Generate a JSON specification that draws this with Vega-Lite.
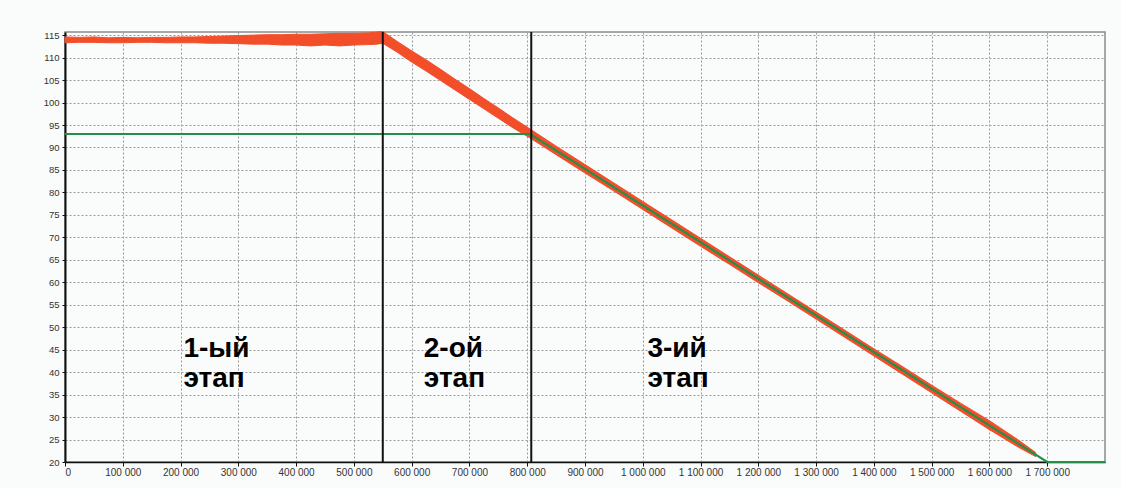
{
  "$schema": "https://vega.github.io/schema/vega-lite/v6.json",
  "width": 1040,
  "height": 430,
  "autosize": {"type": "none"},
  "padding": {"left": 65, "top": 32, "right": 16, "bottom": 26},
  "background": "#fafcfc",
  "config": {
    "locale": {"number": {"decimal": ".", "thousands": " ", "grouping": [3], "currency": ["", ""]}},
    "view": {"stroke": "#8a8a8a", "strokeWidth": 1.5},
    "font": "Liberation Sans"
  },
  "datasets": {
    "red": [
      {"x": 0, "lo": 113.3, "v": 114.6},
      {"x": 25000, "lo": 113.4, "v": 114.5},
      {"x": 50000, "lo": 113.4, "v": 114.6},
      {"x": 75000, "lo": 113.3, "v": 114.4},
      {"x": 100000, "lo": 113.3, "v": 114.5},
      {"x": 125000, "lo": 113.4, "v": 114.4},
      {"x": 150000, "lo": 113.4, "v": 114.5},
      {"x": 175000, "lo": 113.3, "v": 114.5},
      {"x": 200000, "lo": 113.3, "v": 114.6},
      {"x": 225000, "lo": 113.3, "v": 114.6},
      {"x": 250000, "lo": 113.2, "v": 114.7},
      {"x": 275000, "lo": 113.2, "v": 114.8},
      {"x": 300000, "lo": 113.1, "v": 114.9},
      {"x": 325000, "lo": 113.0, "v": 115.0},
      {"x": 350000, "lo": 113.0, "v": 115.1},
      {"x": 375000, "lo": 112.8, "v": 115.1},
      {"x": 400000, "lo": 112.8, "v": 115.2},
      {"x": 425000, "lo": 112.6, "v": 115.2},
      {"x": 450000, "lo": 112.8, "v": 115.3},
      {"x": 475000, "lo": 112.6, "v": 115.4},
      {"x": 500000, "lo": 112.8, "v": 115.4},
      {"x": 525000, "lo": 112.9, "v": 115.5},
      {"x": 540000, "lo": 113.0, "v": 115.7},
      {"x": 550000, "lo": 113.2, "v": 115.8},
      {"x": 575000, "lo": 111.2, "v": 113.6},
      {"x": 600000, "lo": 109.0, "v": 111.5},
      {"x": 625000, "lo": 107.0, "v": 109.5},
      {"x": 650000, "lo": 104.9, "v": 107.4},
      {"x": 675000, "lo": 102.8, "v": 105.2},
      {"x": 700000, "lo": 100.7, "v": 103.1},
      {"x": 725000, "lo": 98.6, "v": 100.9},
      {"x": 750000, "lo": 96.5, "v": 98.8},
      {"x": 775000, "lo": 94.4, "v": 96.6},
      {"x": 805000, "lo": 92.1, "v": 94.1},
      {"x": 850000, "lo": 88.4, "v": 90.3},
      {"x": 900000, "lo": 84.3, "v": 86.2},
      {"x": 950000, "lo": 80.3, "v": 82.1},
      {"x": 1000000, "lo": 76.2, "v": 78.0},
      {"x": 1050000, "lo": 72.1, "v": 73.9},
      {"x": 1100000, "lo": 68.0, "v": 69.8},
      {"x": 1150000, "lo": 64.0, "v": 65.7},
      {"x": 1200000, "lo": 59.9, "v": 61.6},
      {"x": 1250000, "lo": 55.9, "v": 57.5},
      {"x": 1300000, "lo": 51.8, "v": 53.4},
      {"x": 1350000, "lo": 47.7, "v": 49.3},
      {"x": 1400000, "lo": 43.6, "v": 45.2},
      {"x": 1450000, "lo": 39.5, "v": 41.2},
      {"x": 1500000, "lo": 35.4, "v": 37.1},
      {"x": 1550000, "lo": 31.3, "v": 33.1},
      {"x": 1600000, "lo": 27.2, "v": 29.2},
      {"x": 1650000, "lo": 23.3, "v": 24.9},
      {"x": 1680000, "lo": 21.2, "v": 22.1}
    ],
    "green": [
      {"x": 0, "v": 93},
      {"x": 805000, "v": 93},
      {"x": 1700000, "v": 20},
      {"x": 1800000, "v": 20}
    ],
    "stages": [
      {"x": 550000},
      {"x": 807000}
    ],
    "labels": [
      {"x": 205000, "v": 43.4, "label": "1-ый"},
      {"x": 205000, "v": 36.8, "label": "этап"},
      {"x": 621000, "v": 43.4, "label": "2-ой"},
      {"x": 621000, "v": 36.8, "label": "этап"},
      {"x": 1008000, "v": 43.4, "label": "3-ий"},
      {"x": 1008000, "v": 36.8, "label": "этап"}
    ]
  },
  "encoding": {
    "x": {
      "field": "x", "type": "quantitative",
      "scale": {"domain": [0, 1800000], "nice": false, "zero": false},
      "axis": {
        "values": [0, 100000, 200000, 300000, 400000, 500000, 600000, 700000, 800000, 900000, 1000000, 1100000, 1200000, 1300000, 1400000, 1500000, 1600000, 1700000],
        "format": ",d", "title": null, "labelOverlap": false,
        "grid": true, "gridDash": [2, 2], "gridColor": "#9a9a9a", "gridOpacity": 1, "gridWidth": 1,
        "domainColor": "#111", "domainWidth": 1.5,
        "tickColor": "#111", "tickSize": 4,
        "labelFontSize": 10, "labelColor": "#333", "labelPadding": 1, "labelFont": "Liberation Sans"
      }
    }
  },
  "layer": [
    {
      "data": {"name": "red"},
      "mark": {"type": "area", "color": "#f24e2a", "stroke": "#f24e2a", "strokeWidth": 1},
      "encoding": {
        "y": {
          "field": "v", "type": "quantitative",
          "scale": {"domain": [20, 115.7], "nice": false, "zero": false},
          "axis": {
            "values": [20, 25, 30, 35, 40, 45, 50, 55, 60, 65, 70, 75, 80, 85, 90, 95, 100, 105, 110, 115],
            "title": null, "labelOverlap": false, "labelBound": false,
            "grid": true, "gridDash": [2, 2], "gridColor": "#9a9a9a", "gridOpacity": 1, "gridWidth": 1,
            "domainColor": "#111", "domainWidth": 2,
            "tickColor": "#111", "tickSize": 3,
            "labelFontSize": 9.5, "labelColor": "#333", "labelPadding": 3, "labelFont": "Liberation Sans"
          }
        },
        "y2": {"field": "lo"}
      }
    },
    {
      "data": {"name": "green"},
      "mark": {"type": "line", "color": "#23904a", "strokeWidth": 2.2},
      "encoding": {
        "y": {
          "field": "v", "type": "quantitative",
          "axis": {
            "values": [20, 25, 30, 35, 40, 45, 50, 55, 60, 65, 70, 75, 80, 85, 90, 95, 100, 105, 110, 115],
            "title": null, "labelOverlap": false, "labelBound": false,
            "grid": true, "gridDash": [2, 2], "gridColor": "#9a9a9a", "gridOpacity": 1, "gridWidth": 1,
            "domainColor": "#111", "domainWidth": 2,
            "tickColor": "#111", "tickSize": 3,
            "labelFontSize": 9.5, "labelColor": "#333", "labelPadding": 3, "labelFont": "Liberation Sans"
          }
        }
      }
    },
    {
      "data": {"name": "stages"},
      "mark": {"type": "rule", "color": "#111", "strokeWidth": 2},
      "encoding": {}
    },
    {
      "data": {"name": "labels"},
      "mark": {"type": "text", "align": "left", "baseline": "alphabetic", "font": "Liberation Sans", "fontWeight": "bold", "fontSize": 28, "color": "#000"},
      "encoding": {
        "y": {
          "field": "v", "type": "quantitative",
          "axis": {
            "values": [20, 25, 30, 35, 40, 45, 50, 55, 60, 65, 70, 75, 80, 85, 90, 95, 100, 105, 110, 115],
            "title": null, "labelOverlap": false, "labelBound": false,
            "grid": true, "gridDash": [2, 2], "gridColor": "#9a9a9a", "gridOpacity": 1, "gridWidth": 1,
            "domainColor": "#111", "domainWidth": 2,
            "tickColor": "#111", "tickSize": 3,
            "labelFontSize": 9.5, "labelColor": "#333", "labelPadding": 3, "labelFont": "Liberation Sans"
          }
        },
        "text": {"field": "label"}
      }
    }
  ]
}
